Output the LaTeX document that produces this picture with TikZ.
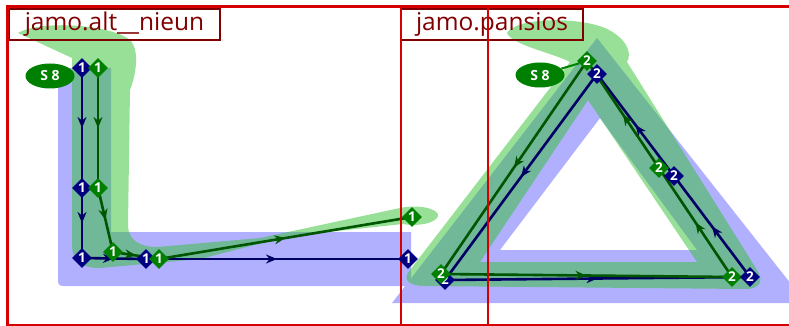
\documentclass[tikz,border=0pt]{standalone}
\usepackage{fontspec}
\setmainfont{Open Sans}
\usetikzlibrary{shapes.geometric,arrows.meta,decorations.markings}
\definecolor{bluefill}{RGB}{176,176,255}
\definecolor{greenfill}{RGB}{49,193,49}
\definecolor{navyline}{RGB}{0,0,100}
\definecolor{navynode}{RGB}{0,0,128}
\definecolor{greenline}{RGB}{0,85,0}
\definecolor{greennode}{RGB}{0,128,0}
\definecolor{framered}{RGB}{215,0,0}
\definecolor{labelred}{RGB}{128,0,0}
\pgfdeclarelayer{regions}
\pgfdeclarelayer{labels}
\pgfdeclarelayer{lines}
\pgfdeclarelayer{frame}
\pgfsetlayers{regions,labels,lines,frame,main}
\tikzset{
  ptnode/.style={diamond, inner sep=0pt, minimum size=20pt, text=white,
    font=\fontsize{13.5}{13.5}\selectfont\bfseries},
  bnode/.style={ptnode, fill=navynode},
  gnode/.style={ptnode, fill=greennode},
  startnode/.style={ellipse, fill=greennode, text=white, inner sep=0pt,
    minimum width=49pt, minimum height=25pt, font=\fontsize{14}{14}\selectfont\bfseries},
  midarrow/.style={postaction={decorate}, decoration={markings,
    mark=at position 0.5 with {\arrow[#1]{Stealth[length=11pt,width=9pt]}}}},
  bline/.style={draw=navyline, line width=2.6pt, midarrow=navyline},
  gline/.style={draw=greenline, line width=2.6pt, midarrow=greenline},
  bregion/.style={fill=bluefill},
  gregion/.style={fill=greenfill, fill opacity=0.5},
  framestyle/.style={draw=framered, line width=3pt},
  labelbox/.style={draw=labelred, line width=2pt, text=labelred, inner sep=0pt,
    minimum height=31pt, font=\fontsize{24.5}{24.5}\selectfont},
}
\begin{document}
\begin{tikzpicture}[x=1pt,y=-1pt]
\useasboundingbox (0,0) rectangle (789,326);
\clip (0,0) rectangle (789,326);

% ---- nodes ----
% left glyph
\node[bnode] (b1) at (82,68) {1};
\node[bnode] (b2) at (82,188) {1};
\node[bnode] (b3) at (82,258) {1};
\node[bnode] (b4) at (146,259) {1};
\node[bnode] (b5) at (408,259) {1};
\node[gnode] (g1) at (98,68) {1};
\node[gnode] (g2) at (98,188) {1};
\node[gnode] (g3) at (113,252) {1};
\node[gnode] (g4) at (159,259) {1};
\node[gnode] (g5) at (412,217) {1};
\node[startnode] (s1) at (50,76) {S 8};
% right glyph
\node[gnode] (G1) at (587,61) {2};
\node[bnode] (B1) at (597,74) {2};
\node[bnode] (B2) at (445,280) {2};
\node[gnode] (G2) at (441,274) {2};
\node[gnode] (G3) at (732,277) {2};
\node[bnode] (B3) at (750,277) {2};
\node[gnode] (G4) at (659,168) {2};
\node[bnode] (B4) at (674,176) {2};
\node[startnode] (s2) at (540,75) {S 8};

% ---- regions ----
\begin{pgfonlayer}{regions}
\fill[bregion] (58,68) -- (111,68) -- (111,232) -- (411,232) -- (411,286)
  -- (64,286) .. controls (58,286) and (58,284) .. (58,278) -- cycle;
\fill[bregion, even odd rule] (597,38) -- (392,303) -- (806,303) -- cycle
  (600,118) -- (500,250) -- (697,250) -- cycle;
\fill[gregion] (18,33) .. controls (40,20) and (110,24) .. (130,40)
  .. controls (140,50) and (136,75) .. (130,90) -- (128,225)
  .. controls (128,240) and (140,247) .. (157,247) -- (260,238) -- (400,208)
  .. controls (425,203) and (445,212) .. (436,219)
  .. controls (430,225) and (412,226) .. (403,224) -- (290,236) -- (200,259)
  -- (100,268) .. controls (80,268) and (72,260) .. (72,245) -- (72,58) -- cycle;
\fill[gregion, even odd rule] (507,33) .. controls (515,18) and (575,16) .. (605,28)
  .. controls (625,37) and (633,52) .. (627,62) -- (757,270)
  .. controls (765,283) and (758,289) .. (745,289) -- (425,286)
  .. controls (408,286) and (402,279) .. (410,270) -- (570,62)
  .. controls (550,52) and (512,45) .. (507,33) -- cycle
  (588,100) -- (480,262) -- (697,262) -- cycle;
\end{pgfonlayer}

% ---- labels ----
\begin{pgfonlayer}{labels}
\node[labelbox, minimum width=211pt] (lab1) at (114.5,24.5) {jamo.alt\_\_nieun};
\node[labelbox, minimum width=182pt] (lab2) at (492,24.5) {jamo.pansios};
\end{pgfonlayer}

% ---- connectors ----
\begin{pgfonlayer}{lines}
\draw[bline] (b1.center) -- (b2.center);
\draw[bline] (b2.center) -- (b3.center);
\draw[bline] (b3.center) -- (b4.center);
\draw[bline] (b4.center) -- (b5.center);
\draw[gline] (g1.center) -- (g2.center);
\draw[gline] (g2.center) -- (g3.center);
\draw[gline] (g3.center) -- (g4.center);
\draw[gline] (g4.center) -- (g5.center);
\draw[bline] (B1.center) -- (B2.center);
\draw[bline] (B2.center) -- (B3.center);
\draw[bline] (B3.center) -- (B4.center);
\draw[bline] (B4.center) -- (B1.center);
\draw[gline] (G1.center) -- (G2.center);
\draw[gline] (G2.center) -- (G3.center);
\draw[gline] (G3.center) -- (G4.center);
\draw[gline] (G4.center) -- (G1.center);
\draw[greennode, line width=2pt] (s2) -- (G1);
\end{pgfonlayer}

% ---- frame ----
\begin{pgfonlayer}{frame}
\coordinate (f1) at (7,330);
\coordinate (f2) at (7,7);
\coordinate (f3) at (800,7);
\coordinate (f4) at (401,7);
\coordinate (f5) at (401,330);
\coordinate (f6) at (488,7);
\coordinate (f7) at (488,330);
\coordinate (f8) at (7,325);
\coordinate (f9) at (800,325);
\draw[framestyle] (f1) -- (f2) -- (f3);
\draw[framestyle, line width=2.5pt] (f4) -- (f5);
\draw[framestyle, line width=2.5pt] (f6) -- (f7);
\draw[framestyle, line width=1.5pt] (f8) -- (f9);
\end{pgfonlayer}
\end{tikzpicture}
\end{document}
